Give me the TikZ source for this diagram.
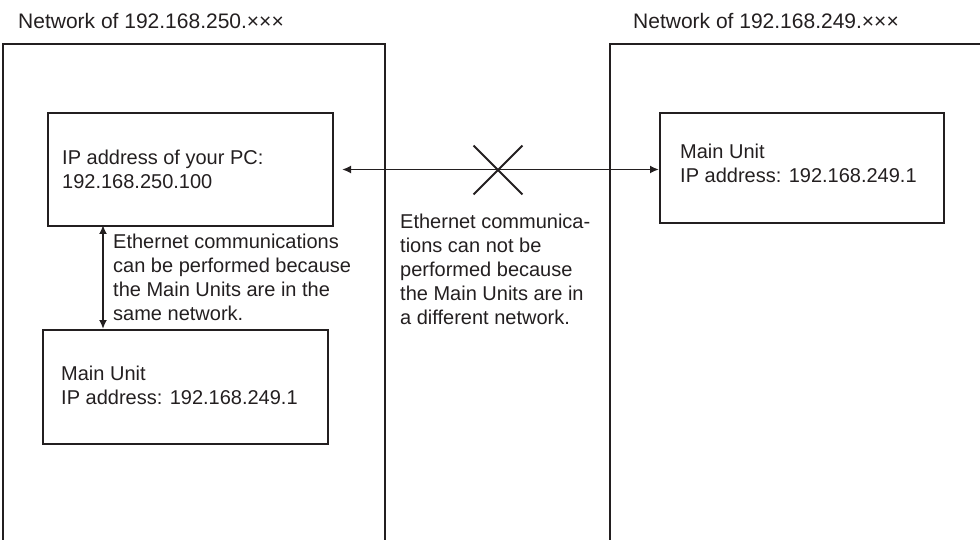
\documentclass[tikz,border=0pt]{standalone}
\usepackage{fontspec}
\setmainfont{Liberation Sans}
\usetikzlibrary{arrows.meta,shapes.misc}
\definecolor{ink}{HTML}{231F20}
\begin{document}
\begin{tikzpicture}[x=1pt,y=-1pt,
  every node/.style={text=ink},
  txt/.style={anchor=base west,inner sep=0pt,align=left,font=\fontsize{20}{24}\selectfont},
  head/.style={anchor=base west,inner sep=0pt,font=\fontsize{21}{25}\selectfont},
  unitbox/.style={draw=ink,line width=2pt,inner sep=0pt},
  frame/.style={draw=ink,line width=2pt},
  arr/.style={draw=ink,line width=1.8pt,{Latex[length=9pt,width=8pt]}-{Latex[length=9pt,width=8pt]}}]
\useasboundingbox (0,0) rectangle (980,540);
% network frames
\draw[frame] (3,540) -- (3,44) -- (385,44) -- (385,540);
\draw[frame] (610,540) -- (610,44) -- (981,44);
\node[head] (net1) at (18,29) {Network of 192.168.250.×××};
\node[head] (net2) at (633,29) {Network of 192.168.249.×××};
% boxes
\node[unitbox,minimum width=285pt,minimum height=113pt] (pc) at (190.5,169.5) {};
\node[unitbox,minimum width=284pt,minimum height=110pt] (ru) at (802,168) {};
\node[unitbox,minimum width=285pt,minimum height=114pt] (mu) at (185.5,387) {};
\node[txt] (pct) at (62,189) {IP address of your PC:\\192.168.250.100};
\node[txt] (rut) at (680,183) {Main Unit\\IP address: 192.168.249.1};
\node[txt] (mut) at (61,404) {Main Unit\\IP address: 192.168.249.1};
% connectors
\coordinate (vx) at (103,0);
\draw[arr] ([xshift=8pt]pc.east) -- (ru.west |- pc.east);
\draw[arr] ([yshift=2pt]vx |- pc.south) -- (vx |- mu.north);
\node[cross out,draw=ink,line width=1.8pt,minimum width=47pt,minimum height=47pt,inner sep=0pt] (xm) at (498,170) {};
\node[txt] (lab1) at (113,320) {Ethernet communications\\can be performed because\\the Main Units are in the\\same network.};
\node[txt] (lab2) at (400,324) {Ethernet communica-\\tions can not be\\performed because\\the Main Units are in\\a different network.};
\end{tikzpicture}
\end{document}
